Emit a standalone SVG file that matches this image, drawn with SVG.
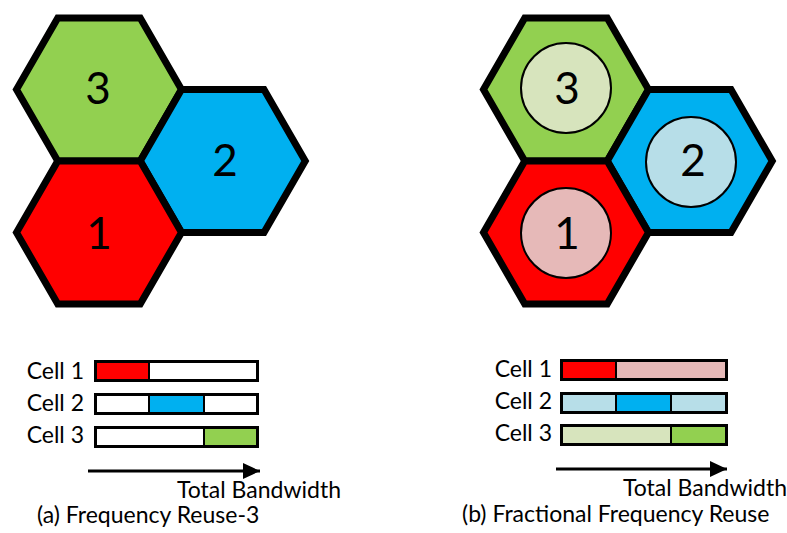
<svg xmlns="http://www.w3.org/2000/svg" xmlns:xlink="http://www.w3.org/1999/xlink" width="787" height="533" viewBox="0 0 787 533">
<style>
.hex{stroke:#000;stroke-width:7;stroke-linejoin:miter}
.inner{stroke:#000;stroke-width:2}
.big{font-family:Lato,"Liberation Sans",sans-serif;font-size:44px;text-anchor:middle;fill:#000}
.lbl{font-family:Lato,"Liberation Sans",sans-serif;font-size:23px;fill:#000}
.bar{fill:none;stroke:#000;stroke-width:3}
.div{stroke:#000;stroke-width:2}
.arr{stroke:#000;stroke-width:3;fill:none}
</style>
<defs>
<polygon id="hex" points="-82.5,0 -41.25,-71.5 41.25,-71.5 82.5,0 41.25,71.5 -41.25,71.5"/>
<marker id="ah" markerUnits="userSpaceOnUse" markerWidth="18" markerHeight="18" refX="17" refY="8" orient="auto">
<path d="M0,0 L17,8 L0,16 Z" fill="#000"/>
</marker>
</defs>

<g id="left-cells">
<g id="L-cell3"><use xlink:href="#hex" class="hex" fill="#92D050" transform="translate(99,89.5)"/><text class="big" x="98" y="104">3</text></g>
<g id="L-cell2"><use xlink:href="#hex" class="hex" fill="#00B0F0" transform="translate(222.75,161)"/><text class="big" x="225" y="176">2</text></g>
<g id="L-cell1"><use xlink:href="#hex" class="hex" fill="#FF0000" transform="translate(99,232.5)"/><text class="big" x="99" y="249">1</text></g>
</g>

<g id="right-cells">
<g id="R-cell3"><use xlink:href="#hex" class="hex" fill="#92D050" transform="translate(566,89.5)"/><circle class="inner" cx="566" cy="88" r="45" fill="#D7E4BD"/><text class="big" x="567" y="104">3</text></g>
<g id="R-cell2"><use xlink:href="#hex" class="hex" fill="#00B0F0" transform="translate(689.75,161)"/><circle class="inner" cx="691" cy="162" r="45" fill="#B7DEE8"/><text class="big" x="693" y="176">2</text></g>
<g id="R-cell1"><use xlink:href="#hex" class="hex" fill="#FF0000" transform="translate(566,232.5)"/><circle class="inner" cx="566" cy="233" r="45" fill="#E6B9B8"/><text class="big" x="567" y="249">1</text></g>
</g>

<g id="left-bars">
<text class="lbl" x="84" y="379" text-anchor="end">Cell 1</text>
<text class="lbl" x="84" y="411" text-anchor="end">Cell 2</text>
<text class="lbl" x="84" y="443" text-anchor="end">Cell 3</text>
<g id="L-bar1">
<rect x="95.5" y="361.5" width="53.5" height="19" fill="#FF0000"/>
<rect x="149" y="361.5" width="108.5" height="19" fill="#FFFFFF"/>
<line class="div" x1="149" y1="361.5" x2="149" y2="380.5"/>
<rect class="bar" x="95.5" y="361.5" width="162" height="19"/>
</g>
<g id="L-bar2">
<rect x="95.5" y="394.5" width="53.5" height="19" fill="#FFFFFF"/>
<rect x="149" y="394.5" width="55" height="19" fill="#00B0F0"/>
<rect x="204" y="394.5" width="53.5" height="19" fill="#FFFFFF"/>
<line class="div" x1="149" y1="394.5" x2="149" y2="413.5"/>
<line class="div" x1="204" y1="394.5" x2="204" y2="413.5"/>
<rect class="bar" x="95.5" y="394.5" width="162" height="19"/>
</g>
<g id="L-bar3">
<rect x="95.5" y="427.5" width="108.5" height="19" fill="#FFFFFF"/>
<rect x="204" y="427.5" width="53.5" height="19" fill="#92D050"/>
<line class="div" x1="204" y1="427.5" x2="204" y2="446.5"/>
<rect class="bar" x="95.5" y="427.5" width="162" height="19"/>
</g>
</g>

<g id="right-bars">
<text class="lbl" x="552" y="377" text-anchor="end">Cell 1</text>
<text class="lbl" x="552" y="409" text-anchor="end">Cell 2</text>
<text class="lbl" x="552" y="441" text-anchor="end">Cell 3</text>
<g id="R-bar1">
<rect x="561.5" y="360.5" width="54.5" height="19" fill="#FF0000"/>
<rect x="616" y="360.5" width="110.5" height="19" fill="#E6B9B8"/>
<line class="div" x1="616" y1="360.5" x2="616" y2="379.5"/>
<rect class="bar" x="561.5" y="360.5" width="165" height="19"/>
</g>
<g id="R-bar2">
<rect x="561.5" y="393.5" width="54.5" height="19" fill="#B7DEE8"/>
<rect x="616" y="393.5" width="55" height="19" fill="#00B0F0"/>
<rect x="671" y="393.5" width="55.5" height="19" fill="#B7DEE8"/>
<line class="div" x1="616" y1="393.5" x2="616" y2="412.5"/>
<line class="div" x1="671" y1="393.5" x2="671" y2="412.5"/>
<rect class="bar" x="561.5" y="393.5" width="165" height="19"/>
</g>
<g id="R-bar3">
<rect x="561.5" y="425.5" width="109.5" height="19" fill="#D7E4BD"/>
<rect x="671" y="425.5" width="55.5" height="19" fill="#92D050"/>
<line class="div" x1="671" y1="425.5" x2="671" y2="444.5"/>
<rect class="bar" x="561.5" y="425.5" width="165" height="19"/>
</g>
</g>

<g id="connectors">
<line class="arr" x1="88" y1="471" x2="260" y2="471" marker-end="url(#ah)"/>
<line class="arr" x1="556" y1="469" x2="727" y2="469" marker-end="url(#ah)"/>
</g>

<g id="captions">
<text class="lbl" x="177" y="498">Total Bandwidth</text>
<text class="lbl" x="37" y="523">(a) Frequency Reuse-3</text>
<text class="lbl" x="623" y="496">Total Bandwidth</text>
<text class="lbl" x="462" y="522">(b) Fractional Frequency Reuse</text>
</g>
</svg>
